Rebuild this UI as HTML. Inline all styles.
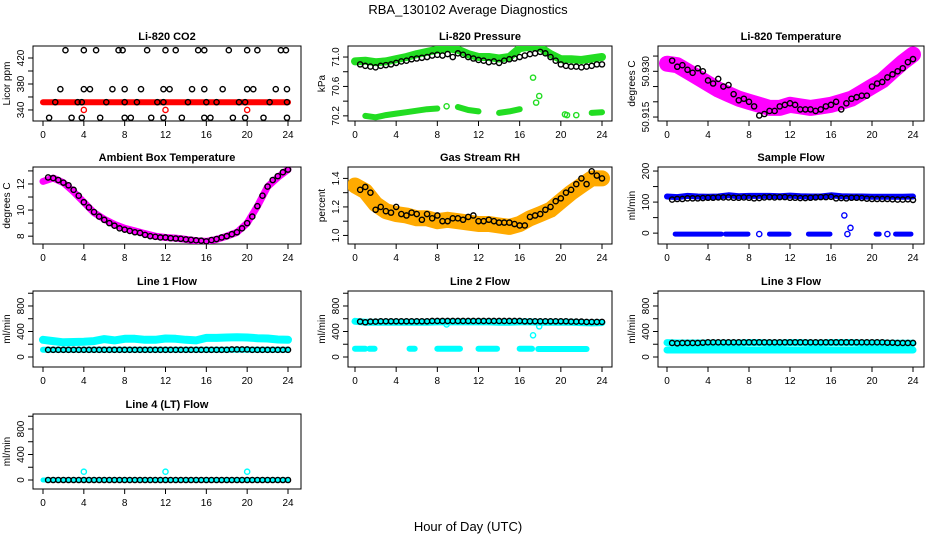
<!DOCTYPE html>
<html><head><meta charset="utf-8">
<style>
body{margin:0;background:#fff;}
svg{display:block;font-family:"Liberation Sans",sans-serif;}
</style></head>
<body>
<svg id="chart" width="936" height="540" viewBox="0 0 936 540">
<rect width="936" height="540" fill="#fff"/>
<text x="468" y="14" text-anchor="middle" font-size="13">RBA_130102  Average Diagnostics</text>
<text x="468" y="531" text-anchor="middle" font-size="13">Hour of Day (UTC)</text>
</svg>
<script>
// ---- data ----
const hours = [0,1,2,3,4,5,6,7,8,9,10,11,12,13,14,15,16,17,18,19,20,21,22,23,24];
const halfHours = [0.5,1,1.5,2,2.5,3,3.5,4,4.5,5,5.5,6,6.5,7,7.5,8,8.5,9,9.5,10,10.5,11,11.5,12,12.5,13,13.5,14,14.5,15,15.5,16,16.5,17,17.5,18,18.5,19,19.5,20,20.5,21,21.5,22,22.5,23,23.5,24];

const co2Red = [352,352,352,352,352,352,352,352,352,352,352,352,352,352,352,352,352,352,352,352,352,352,352,352,352];
const co2RedPtTimes = [4,12,20];
const co2RedPtValues = [340,340,340];
const co2BlackTimes = [2.2,4,5.2,7.4,7.8,10.2,12,13,15.2,15.8,18.2,20,21,23.3,23.8, 1.7,4,4.6,6.8,8,9.6,11.8,12.4,14.6,15.8,17.6,20,20.6,22.8,23.9, 1.2,3.4,3.8,6.2,8,9.2,11.2,11.8,14.2,16,17,19.2,19.8,22.2,23.9, 0.6,2.8,3.8,5.6,8,8.6,10.6,11.8,13.6,15.8,16.4,18.6,19.8,21.6,23.9];
const co2BlackValues = [432,432,432,432,432,432,432,432,432,432,432,432,432,432,432, 372,372,372,372,372,372,372,372,372,372,372,372,372,372,372, 352,352,352,352,352,352,352,352,352,352,352,352,352,352,352, 328,328,328,328,328,328,328,328,328,328,328,328,328,328,328];

const pressureUpper = [70.94,70.95,70.93,70.94,70.97,71.0,71.04,71.07,71.1,71.12,71.1,71.04,71.0,71.0,70.98,71.0,71.12,71.14,71.13,71.04,70.97,70.97,70.96,70.98,71.0];
const pressureLower = [null,70.2,70.18,70.21,70.23,70.25,70.27,70.29,70.3,null,70.32,70.28,70.26,null,70.24,70.26,70.29,null,null,null,null,null,null,70.24,70.25];
const pressureExtraTimes = [8.9,17.3,17.6,17.9,20.4,20.6,21.5];
const pressureExtraValues = [70.33,70.72,70.38,70.47,70.22,70.21,70.21];
const pressureBlack = [70.9,70.88,70.87,70.86,70.88,70.89,70.9,70.92,70.94,70.95,70.97,70.98,70.99,71.0,71.02,71.03,71.02,71.04,71.0,71.05,71.03,71.0,70.98,70.96,70.95,70.93,70.94,70.92,70.95,70.97,70.98,71.0,71.02,71.04,71.05,71.07,71.05,71.0,70.95,70.9,70.88,70.87,70.87,70.86,70.87,70.88,70.9,70.9];

const tempBand = [50.9325,50.932,50.930,50.928,50.926,50.924,50.9225,50.921,50.920,50.919,50.918,50.918,50.919,50.9185,50.918,50.9185,50.919,50.920,50.921,50.923,50.925,50.927,50.930,50.933,50.9355];
const tempBlack = [50.9335,50.9315,50.932,50.9305,50.9295,50.931,50.930,50.927,50.926,50.9275,50.925,50.9255,50.9225,50.9205,50.921,50.920,50.9185,50.9155,50.916,50.917,50.917,50.9185,50.919,50.9195,50.919,50.9175,50.9175,50.9175,50.917,50.9175,50.9185,50.919,50.920,50.9175,50.9195,50.921,50.9215,50.922,50.922,50.925,50.926,50.9265,50.928,50.929,50.930,50.931,50.933,50.934];

const ambientBand = [12.2,12.45,12.1,11.4,10.6,9.8,9.3,8.9,8.6,8.4,8.2,8.0,7.9,7.85,7.75,7.65,7.6,7.75,8.0,8.3,9.0,10.3,11.8,12.5,13.1];
const ambientBlack = [12.5,12.45,12.3,12.1,11.9,11.55,11.1,10.6,10.2,9.85,9.5,9.25,9.0,8.8,8.6,8.5,8.4,8.3,8.25,8.1,8.0,7.95,7.9,7.9,7.85,7.82,7.8,7.75,7.72,7.68,7.65,7.6,7.7,7.78,7.9,8.0,8.15,8.3,8.6,9.0,9.5,10.3,11.1,11.8,12.3,12.6,12.9,13.1];

const rhBand = [1.35,1.31,1.22,1.17,1.15,1.14,1.12,1.12,1.10,1.11,1.10,1.09,1.08,1.08,1.07,1.06,1.08,1.12,1.15,1.18,1.24,1.30,1.35,1.40,1.40];
const rhBlack = [1.32,1.34,1.30,1.18,1.20,1.17,1.16,1.20,1.15,1.14,1.16,1.15,1.11,1.15,1.12,1.14,1.10,1.10,1.12,1.12,1.11,1.13,1.14,1.10,1.10,1.11,1.10,1.09,1.09,1.09,1.08,1.07,1.07,1.13,1.14,1.15,1.18,1.20,1.24,1.26,1.30,1.32,1.36,1.40,1.36,1.45,1.42,1.40];

const sampleUpper = [118,116,120,118,117,118,122,119,120,120,120,119,121,119,118,118,122,119,118,118,117,117,117,117,118];
const sampleLowStarts = [0.8,5.7,10,13.8,20.4,22.3];
const sampleLowEnds = [5.3,7.9,11.9,15.9,20.7,23.8];
const sampleLowValue = [-3,-3,-3,-3,-3,-3];
const sampleExtraTimes = [9,17.3,17.6,17.9,21.5];
const sampleExtraValues = [-3,57,-3,17,-3];
const sampleBlack = [108,110,110,112,112,112,113,114,114,115,115,115,114,114,115,114,112,113,115,116,115,116,116,114,114,113,113,114,115,116,116,117,112,113,112,114,114,113,111,110,110,110,110,109,108,108,109,107];

const line1Upper = [270,250,230,235,240,250,280,260,285,285,270,270,290,285,270,260,300,300,305,310,305,295,290,275,270];
const line1Lower = [115,115,115,115,115,115,115,115,115,115,115,115,115,115,115,115,115,115,115,115,115,115,115,115,115];
const line1Black = [112,112,112,112,112,112,112,112,112,112,112,112,112,112,112,112,112,112,112,112,112,112,112,112,112,112,112,112,112,112,112,112,112,112,112,112,118,118,118,118,112,112,112,112,112,112,112,112];

const line2Upper = [560,545,545,545,545,545,545,545,550,550,550,550,550,550,545,545,550,550,545,545,545,545,540,535,540];
const line2LowStarts = [0,1.4,5.3,8,12,16,17.8];
const line2LowEnds = [1,1.9,5.8,10.2,13.8,17.2,22.5];
const line2LowValue = [130,130,130,130,130,130,125];
const line2ExtraTimes = [8.9,17.3,17.9];
const line2ExtraValues = [510,340,480];
const line2Black = [555,545,555,555,560,560,560,560,560,560,560,560,560,560,565,565,565,565,565,565,565,565,565,565,565,565,565,565,565,565,565,565,560,560,560,560,560,560,560,560,560,555,555,555,550,550,550,550];

const line3Upper = [225,220,220,220,220,220,220,220,225,225,220,220,225,225,220,220,225,225,225,220,220,220,215,215,215];
const line3Lower = [110,110,110,110,110,110,110,110,110,110,110,110,110,110,110,110,110,110,110,110,110,110,110,110,110];
const line3Black = [220,215,220,220,220,220,225,230,230,230,230,230,230,230,230,230,230,230,230,230,230,230,230,230,230,230,230,230,230,230,230,230,230,230,230,230,230,230,230,230,230,230,225,225,220,220,220,220];

const line4Band = [0,0,0,0,0,0,0,0,0,0,0,0,0,0,0,0,0,0,0,0,0,0,0,0,0];
const line4ExtraTimes = [4,12,20];
const line4ExtraValues = [130,130,130];
const line4Black = [0,0,0,0,0,0,0,0,0,0,0,0,0,0,0,0,0,0,0,0,0,0,0,0,0,0,0,0,0,0,0,0,0,0,0,0,0,0,0,0,0,0,0,0,0,0,0,0];

// ---- layout ----
const NS = "http://www.w3.org/2000/svg";
const svg = document.getElementById('chart');
const cols = [{l:33,r:301,x0:43,x24:288},{l:348,r:612,x0:355,x24:602},{l:658,r:924,x0:667,x24:913}];
const rows = [{t:46,b:121},{t:167,b:244},{t:291,b:367},{t:414,b:489}];

function mk(tag, attrs, parent){const e=document.createElementNS(NS,tag);for(const k in attrs)e.setAttribute(k,attrs[k]);(parent||svg).appendChild(e);return e;}

function panel(name, title, ylab, ci, ri, ymin, ymax, ticks, labels){
  const c=cols[ci], r=rows[ri];
  const g=mk('g',{});
  
  
  const xs=h=>c.x0+(c.x24-c.x0)*h/24;
  const ys=v=>r.b-(v-ymin)/(ymax-ymin)*(r.b-r.t);
  const p={g,xs,ys};
  // title
  const t=mk('text',{x:(c.l+c.r)/2,y:r.t-6,'text-anchor':'middle','font-size':11,'font-weight':'bold'},g);
  t.textContent=title;
  
  
  // y label
  const yl=mk('text',{x:0,y:0,'text-anchor':'middle','font-size':10,transform:`translate(${c.l-23},${(r.t+r.b)/2}) rotate(-90)`},g);
  yl.textContent=ylab;
  
  
  // box
  const bx=mk('rect',{x:c.l,y:r.t,width:c.r-c.l,height:r.b-r.t,fill:'none',stroke:'#000','stroke-width':1},g);
  
  
  // x axis
  const xa=mk('g',{},g);
  
  
  mk('line',{x1:xs(0),x2:xs(24),y1:r.b,y2:r.b,stroke:'#000'},xa);
  for(let h=0;h<=24;h+=4){
    mk('line',{x1:xs(h),x2:xs(h),y1:r.b,y2:r.b+5,stroke:'#000'},xa);
    const tl=mk('text',{x:xs(h),y:r.b+17,'text-anchor':'middle','font-size':10},xa);
    tl.textContent=h;
    
    
  }
  // y axis
  const ya=mk('g',{},g);
  
  
  mk('line',{x1:c.l,x2:c.l,y1:ys(ticks[0]),y2:ys(ticks[ticks.length-1]),stroke:'#000'},ya);
  ticks.forEach(v=>{
    mk('line',{x1:c.l-5,x2:c.l,y1:ys(v),y2:ys(v),stroke:'#000'},ya);
  });
  labels.forEach(v=>{
    const tl=mk('text',{x:0,y:0,'text-anchor':'middle','font-size':10,transform:`translate(${c.l-9},${ys(v)}) rotate(-90)`},ya);
    tl.textContent=v;
    
    
  });
  // clip
  const cid='clip'+name;
  const cp=mk('clipPath',{id:cid},g);
  mk('rect',{x:c.l,y:r.t,width:c.r-c.l,height:r.b-r.t},cp);
  p.data=mk('g',{'clip-path':`url(#${cid})`},g);
  return p;
}

function band(p, xsArr, vals, color, w, nm){
  let d='', pen=false;
  vals.forEach((v,i)=>{
    if(v===null){pen=false;return;}
    d+=(pen?'L':'M')+p.xs(xsArr[i]).toFixed(1)+','+p.ys(v).toFixed(1);
    pen=true;
  });
  const e=mk('path',{d,fill:'none',stroke:color,'stroke-width':w,'stroke-linecap':'round','stroke-linejoin':'round'},p.data);
  
  
}
function segs(p, starts, ends, vals, color, w, nm){
  starts.forEach((s,i)=>{
    const e=mk('line',{x1:p.xs(s),x2:p.xs(ends[i]),y1:p.ys(vals[i]),y2:p.ys(vals[i]),stroke:color,'stroke-width':w,'stroke-linecap':'round'},p.data);
    
    
  });
}
function pts(p, times, vals, color, nm){
  vals.forEach((v,i)=>{
    const e=mk('circle',{cx:p.xs(times[i]),cy:p.ys(v),r:2.6,fill:'none',stroke:color,'stroke-width':1.4},p.data);
    
    
  });
}

const CY='#00ffff';
// CO2
let p=panel('co2','Li-820 CO2','Licor ppm',0,0,323,438.5,[340,360,380,400,420],[340,380,420]);
band(p,hours,co2Red,'#ff0000',6,'co2-red-series');
pts(p,co2RedPtTimes,co2RedPtValues,'#ff0000','co2-red-point');
pts(p,co2BlackTimes,co2BlackValues,'#000','co2-black-point');
// Pressure
p=panel('pressure','Li-820 Pressure','kPa',1,0,70.13,71.15,[70.2,70.4,70.6,70.8,71.0],['70.2','70.6','71.0']);
band(p,hours,pressureUpper,'#22dd22',8,'pressure-green-series');
band(p,hours,pressureLower,'#22dd22',6,'pressure-green-low-series');
pts(p,pressureExtraTimes,pressureExtraValues,'#22dd22','pressure-green-point');
pts(p,halfHours,pressureBlack,'#000','pressure-black-point');
// Temperature
p=panel('temperature','Li-820 Temperature','degrees C',2,0,50.9137,50.9383,[50.915,50.92,50.925,50.93,50.935],['50.915','50.930']);
band(p,hours,tempBand,'#ff00ff',16,'temperature-magenta-series');
pts(p,halfHours,tempBlack,'#000','temperature-black-point');
// Ambient
p=panel('ambient','Ambient Box Temperature','degrees C',0,1,7.4,13.3,[8,9,10,11,12,13],[8,10,12]);
band(p,hours,ambientBand,'#ff00ff',7,'ambient-magenta-series');
pts(p,halfHours,ambientBlack,'#000','ambient-black-point');
// RH
p=panel('rh','Gas Stream RH','percent',1,1,0.94,1.48,[1.0,1.1,1.2,1.3,1.4],['1.0','1.2','1.4']);
band(p,hours,rhBand,'#ffaa00',16,'rh-orange-series');
pts(p,halfHours,rhBlack,'#000','rh-black-point');
// Sample flow
p=panel('sample','Sample Flow','ml/min',2,1,-35,213,[0,50,100,150,200],[0,100,200]);
band(p,hours,sampleUpper,'#0000ff',6,'sample-blue-series');
segs(p,sampleLowStarts,sampleLowEnds,sampleLowValue,'#0000ff',5,'sample-blue-low-series');
pts(p,sampleExtraTimes,sampleExtraValues,'#0000ff','sample-blue-point');
pts(p,halfHours,sampleBlack,'#000','sample-black-point');
// Line 1
const fT=[0,200,400,600,800,1000], fL=[0,400,800];
p=panel('line1','Line 1 Flow','ml/min',0,2,-157,1035,fT,fL);
band(p,hours,line1Upper,CY,8,'line1-cyan-series');
band(p,hours,line1Lower,CY,6,'line1-cyan-low-series');
pts(p,halfHours,line1Black,'#000','line1-black-point');
// Line 2
p=panel('line2','Line 2 Flow','ml/min',1,2,-157,1035,fT,fL);
band(p,hours,line2Upper,CY,7,'line2-cyan-series');
segs(p,line2LowStarts,line2LowEnds,line2LowValue,CY,6,'line2-cyan-low-series');
pts(p,line2ExtraTimes,line2ExtraValues,CY,'line2-cyan-point');
pts(p,halfHours,line2Black,'#000','line2-black-point');
// Line 3
p=panel('line3','Line 3 Flow','ml/min',2,2,-157,1035,fT,fL);
band(p,hours,line3Upper,CY,7,'line3-cyan-series');
band(p,hours,line3Lower,CY,7,'line3-cyan-low-series');
pts(p,halfHours,line3Black,'#000','line3-black-point');
// Line 4
p=panel('line4','Line 4 (LT) Flow','ml/min',0,3,-141,1035,fT,fL);
band(p,hours,line4Band,CY,5,'line4-cyan-series');
pts(p,line4ExtraTimes,line4ExtraValues,CY,'line4-cyan-point');
pts(p,halfHours,line4Black,'#000','line4-black-point');
</script>
</body></html>
